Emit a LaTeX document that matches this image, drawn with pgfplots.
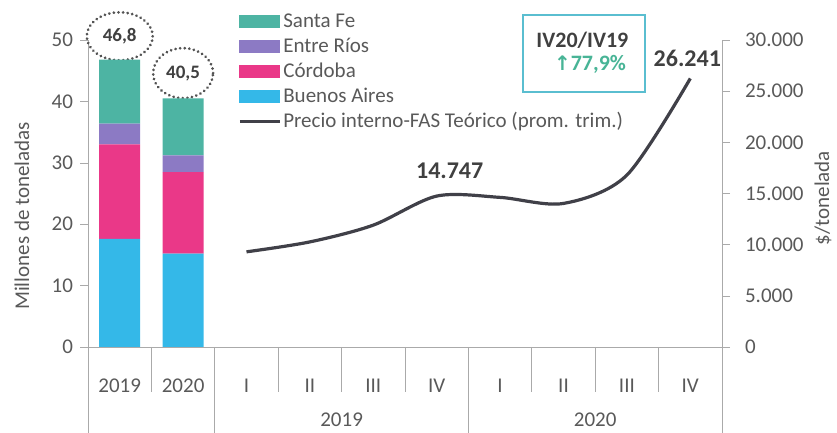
\documentclass[border=0pt]{standalone}
\usepackage{fontspec}
\setmainfont{Carlito}
\newfontfamily\dejavu{DejaVu Sans}
\usepackage{pgfplots}
\pgfplotsset{compat=1.18}
\definecolor{santafe}{RGB}{77,180,163}
\definecolor{entrerios}{RGB}{140,122,196}
\definecolor{cordoba}{RGB}{234,56,136}
\definecolor{bsas}{RGB}{52,184,232}
\definecolor{linegray}{RGB}{64,64,72}
\definecolor{txtgray}{RGB}{89,89,89}
\definecolor{boldgray}{RGB}{64,64,64}
\definecolor{axgray}{RGB}{170,170,170}
\definecolor{boxblue}{RGB}{90,190,208}
\definecolor{upgreen}{RGB}{72,180,150}

\pgfplotsset{
  common/.style={
    width=317pt, height=153.5pt, scale only axis,
    at={(0pt,0pt)}, anchor=south west,
    xmin=-0.5, xmax=9.5, ymin=0,
    clip=false,
    axis line style={draw=axgray, -},
    tick style={draw=axgray},
    tick align=outside, major tick length=4pt,
    ticklabel style={font=\fontsize{10.5}{12}\selectfont, text=txtgray},
    /pgf/number format/assume math mode=true,
  },
}

\begin{document}
\begin{tikzpicture}[font=\fontsize{10.5}{12.6}\selectfont]
\useasboundingbox (-44pt,-43pt) rectangle (374.5pt,173.5pt);

\begin{axis}[common,
  ymax=50, ytick={0,10,...,50},
  axis y line*=left, axis x line*=bottom,
  xtick={0,...,9},
  xticklabels={2019,2020,I,II,III,IV,I,II,III,IV},
  major x tick style={draw=none},
  xticklabel style={anchor=center, yshift=-15.5pt},
  ybar stacked, bar width=20.5pt,
  legend style={at={(rel axis cs:0.227,1.115)}, anchor=north west,
    draw=none, fill=none, row sep=0pt,
    font=\fontsize{10.5}{12}\selectfont, text=txtgray,
    nodes={inner sep=1pt, text height=8pt, text depth=2.5pt}},
  legend cell align=left,
]
\addplot[fill=bsas, draw=none, forget plot] coordinates {(0,17.6) (1,15.2)};
\addplot[fill=cordoba, draw=none, forget plot] coordinates {(0,15.4) (1,13.3)};
\addplot[fill=entrerios, draw=none, forget plot] coordinates {(0,3.4) (1,2.7)};
\addplot[fill=santafe, draw=none, forget plot] coordinates {(0,10.4) (1,9.3)};

\addlegendimage{legend image code/.code={\fill[santafe] (0pt,-3pt) rectangle (20pt,3pt);}}
\addlegendentry{Santa Fe}
\addlegendimage{legend image code/.code={\fill[entrerios] (0pt,-3pt) rectangle (20pt,3pt);}}
\addlegendentry{Entre Ríos}
\addlegendimage{legend image code/.code={\fill[cordoba] (0pt,-3pt) rectangle (20pt,3pt);}}
\addlegendentry{Córdoba}
\addlegendimage{legend image code/.code={\fill[bsas] (0pt,-3pt) rectangle (20pt,3pt);}}
\addlegendentry{Buenos Aires}
\addlegendimage{legend image code/.code={\draw[linegray, line width=1.5pt] (0pt,0pt) -- (20pt,0pt);}}
\addlegendentry{Precio interno-FAS Teórico (prom. trim.)}

% totals in dotted ellipses
\draw[boldgray!90, line width=1.5pt, dash pattern=on 0.01pt off 2.3pt, line cap=round]
  (axis cs:0,50.6) ellipse [x radius=16.5pt, y radius=12pt];
\node[text=boldgray, font=\fontsize{9.5}{11}\selectfont\bfseries] at (axis cs:0,50.6) {46,8};
\draw[boldgray!90, line width=1.5pt, dash pattern=on 0.01pt off 2.3pt, line cap=round]
  (axis cs:1,44.6) ellipse [x radius=15pt, y radius=12.5pt];
\node[text=boldgray, font=\fontsize{9.5}{11}\selectfont\bfseries] at (axis cs:1,44.6) {40,5};
\end{axis}

\begin{axis}[common,
  ymax=30000, ytick={0,5000,...,30000},
  scaled y ticks=false,
  /pgf/number format/1000 sep={.},
  axis y line*=right, axis x line=none,
  yticklabel style={xshift=4pt},
]
\addplot[smooth, line width=1.6pt, color=linegray]
  coordinates {(2,9300) (3,10270) (4,11910) (5,14747) (6,14620) (7,14030) (8,16800) (9,26241)};
\node[text=boldgray, font=\fontsize{12}{14}\selectfont\bfseries] at (axis cs:5,14747) [xshift=6.5pt, yshift=12.5pt] {14.747};
\node[text=boldgray, font=\fontsize{12}{14}\selectfont\bfseries] at (axis cs:9,26241) [xshift=-1.5pt, yshift=10pt] {26.241};
\end{axis}

% category separators and second row
\foreach \k in {0,2,6,10} \draw[axgray] (31.7*\k pt,0) -- (31.7*\k pt,-43pt);
\foreach \k in {1,3,4,5,7,8,9} \draw[axgray] (31.7*\k pt,0) -- (31.7*\k pt,-22.5pt);
\node[text=txtgray] at (126.8pt,-36.5pt) {2019};
\node[text=txtgray] at (253.6pt,-36.5pt) {2020};

% axis titles
\node[text=txtgray, rotate=90] at (-33pt,65.5pt) {Millones de toneladas};
\node[text=txtgray, rotate=90] at (367.5pt,74.5pt) {\$/tonelada};

% comparison box
\draw[boxblue, line width=0.8pt] (217.5pt,127.5pt) rectangle (278.5pt,166pt);
\node[text=boldgray, font=\fontsize{11}{13}\selectfont\bfseries] at (247.2pt,153.5pt) {IV20/IV19};
\node[text=upgreen, font=\fontsize{11}{13}\selectfont\bfseries] at (251pt,141.5pt) {{\dejavu\fontsize{10}{12}\selectfont ↑}77,9\%};
\end{tikzpicture}
\end{document}
